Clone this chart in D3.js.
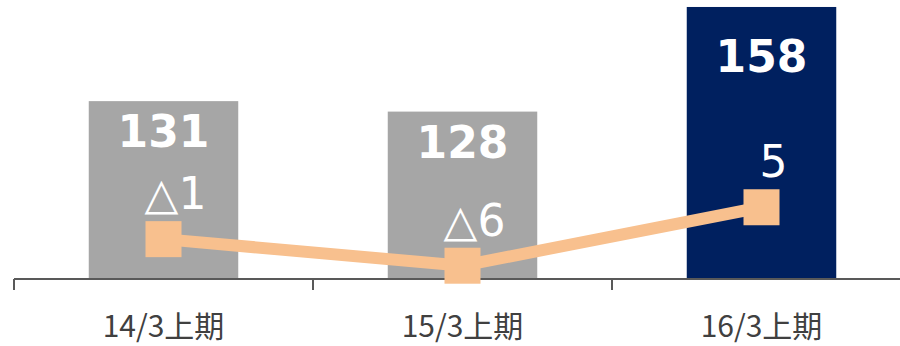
<!DOCTYPE html>
<html>
<head>
<meta charset="utf-8">
<script src="https://cdn.jsdelivr.net/npm/d3@7/dist/d3.min.js"></script>
<style>
  html, body { margin: 0; padding: 0; background: #fff; }
  svg { display: block; }
</style>
</head>
<body>
<svg id="chart" width="900" height="346"></svg>
<script>
// ---- data ----
const categories = ["14/3上期", "15/3上期", "16/3上期"];
const barValues = [131, 128, 158];
const lineValues = [-1, -6, 5];
const highlightIndex = 2;

// ---- layout ----
const W = 900, H = 346;
const baseY = 279;
const svg = d3.select("#chart");

const x = d3.scaleBand().domain(categories).range([14, 911]).padding(0);
const y = d3.scaleLinear().domain([80, 160]).range([baseY, 0]);
const y2 = d3.scaleLinear().domain([-8.5, 44]).range([baseY, 0]);

const barW = x.bandwidth() * 0.5;
const cx = d => x(d) + x.bandwidth() / 2;

// bars
svg.append("g").selectAll("rect").data(categories).join("rect")
  .attr("x", d => cx(d) - barW / 2)
  .attr("width", barW)
  .attr("y", (d, i) => y(barValues[i]))
  .attr("height", (d, i) => baseY - y(barValues[i]))
  .attr("fill", (d, i) => i === highlightIndex ? "#00205F" : "#A6A6A6");

// bar labels
svg.append("g").selectAll("text").data(categories).join("text")
  .attr("x", d => cx(d))
  .attr("y", (d, i) => y(barValues[i]) + (i === highlightIndex ? 65 : 46))
  .attr("text-anchor", "middle")
  .attr("font-family", "'DejaVu Sans', Verdana, sans-serif")
  .attr("font-weight", "bold")
  .attr("font-size", 44)
  .attr("fill", "#fff")
  .text((d, i) => barValues[i]);

// x axis
const axis = d3.axisBottom(x).tickSize(11).tickFormat("");
const gAxis = svg.append("g").attr("transform", `translate(0,${baseY})`).call(axis);
gAxis.select(".domain").attr("d", `M14,0H${W}`).attr("stroke", "#595959").attr("stroke-width", 2);
gAxis.selectAll(".tick").attr("transform", d => `translate(${x(d)},0)`);
gAxis.selectAll(".tick line").attr("stroke", "#595959").attr("stroke-width", 2);

// category labels
svg.append("g").selectAll("text").data(categories).join("text")
  .attr("x", d => cx(d))
  .attr("y", 337)
  .attr("text-anchor", "middle")
  .attr("font-family", "'Noto Sans CJK JP', sans-serif")
  .attr("font-size", 30)
  .attr("fill", "#404040")
  .text(d => d);

// line
const line = d3.line().x((d, i) => cx(categories[i])).y(d => y2(d));
svg.append("path").datum(lineValues)
  .attr("d", line)
  .attr("fill", "none")
  .attr("stroke", "#F8C08E")
  .attr("stroke-width", 12);

const ms = 36;
svg.append("g").selectAll("rect").data(lineValues).join("rect")
  .attr("x", (d, i) => cx(categories[i]) - ms / 2)
  .attr("y", d => y2(d) - ms / 2)
  .attr("width", ms).attr("height", ms)
  .attr("fill", "#F8C08E");

// line labels
const fmt = v => v < 0 ? "△" + Math.abs(v) : String(v);
svg.append("g").selectAll("text").data(lineValues).join("text")
  .attr("x", (d, i) => cx(categories[i]) + 12)
  .attr("y", d => y2(d) - 30)
  .attr("text-anchor", "middle")
  .attr("font-family", "'DejaVu Sans', Verdana, sans-serif")
  .attr("font-size", 44)
  .attr("fill", "#fff")
  .text(d => fmt(d));
</script>
</body>
</html>
